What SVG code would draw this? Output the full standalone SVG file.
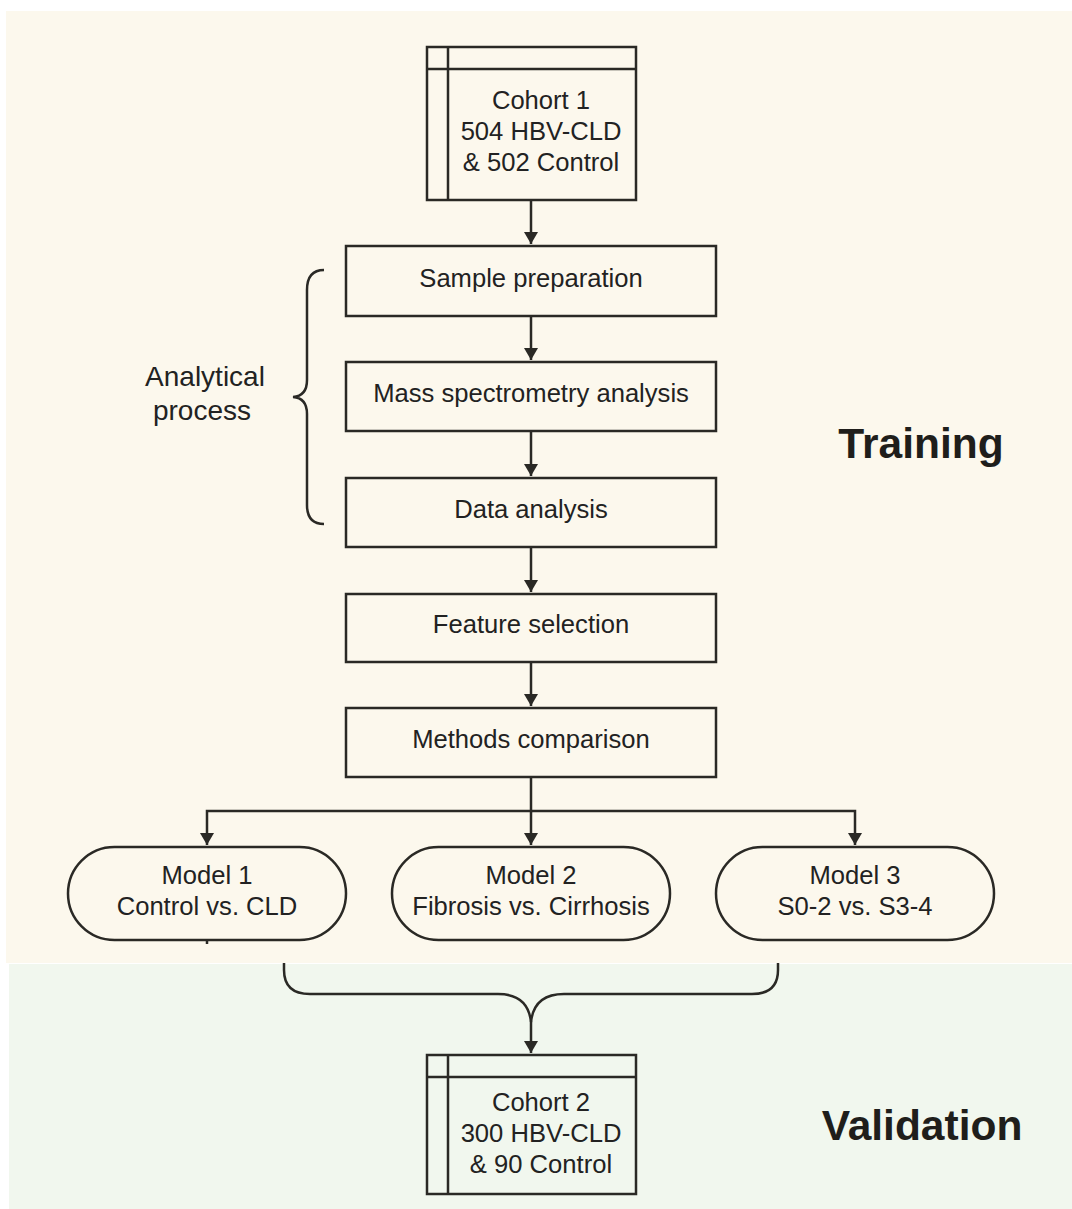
<svg xmlns="http://www.w3.org/2000/svg" width="1072" height="1209" viewBox="0 0 1072 1209">
<style>
.n{fill:none;stroke:#2a2925;stroke-width:2.5}
.f{fill:none;stroke:#2a2925;stroke-width:2.5}
.t{font-family:"Liberation Sans",Arial,sans-serif;font-size:25.6px;fill:#222;text-anchor:middle}
.b{font-family:"Liberation Sans",Arial,sans-serif;font-size:42.5px;font-weight:bold;fill:#1f1e1b;text-anchor:middle}
</style>
<defs>
<marker id="ah" markerWidth="14" markerHeight="16" refX="12" refY="7" orient="auto" markerUnits="userSpaceOnUse">
<path d="M0,0 L12,7 L0,14 Z" fill="#2a2925"/>
</marker>
</defs>
<rect width="1072" height="1209" fill="#ffffff"/>
<rect x="6" y="11" width="1066" height="952" fill="#fcf8ed"/>
<rect x="9" y="964" width="1063" height="245" fill="#f1f7ee"/>

<g id="connectors">
<path class="f" d="M531,200 V244" marker-end="url(#ah)"/>
<path class="f" d="M531,316 V360" marker-end="url(#ah)"/>
<path class="f" d="M531,431 V476" marker-end="url(#ah)"/>
<path class="f" d="M531,547 V592" marker-end="url(#ah)"/>
<path class="f" d="M531,662 V706" marker-end="url(#ah)"/>
<path class="f" d="M531,777 V811 H207 V845" marker-end="url(#ah)"/>
<path class="f" d="M531,811 V845" marker-end="url(#ah)"/>
<path class="f" d="M531,811 H855 V845" marker-end="url(#ah)"/>
<path class="f" d="M207,940 V944"/>
<path class="f" d="M284,963 V970 Q284,994 310,994 H498 Q528,994 531,1022 V1053" marker-end="url(#ah)"/>
<path class="f" d="M778,963 V970 Q778,994 752,994 H564 Q534,994 531,1022"/>
<path class="f" d="M324,270 Q307,270 307,290 V380 Q307,396 293,397 Q307,398 307,414 V505 Q307,524 324,524"/>
</g>

<g id="cohort1">
<rect class="n" x="427" y="47" width="209" height="153"/>
<path class="n" d="M427,69 H636 M448,47 V200"/>
<text class="t" x="541" y="109">Cohort 1</text>
<text class="t" x="541" y="140">504 HBV-CLD</text>
<text class="t" x="541" y="171">&amp; 502 Control</text>
</g>

<g id="sample">
<rect class="n" x="346" y="246" width="370" height="70"/>
<text class="t" x="531" y="287">Sample preparation</text>
</g>
<g id="mass">
<rect class="n" x="346" y="362" width="370" height="69"/>
<text class="t" x="531" y="402">Mass spectrometry analysis</text>
</g>
<g id="data">
<rect class="n" x="346" y="478" width="370" height="69"/>
<text class="t" x="531" y="518">Data analysis</text>
</g>
<g id="feature">
<rect class="n" x="346" y="594" width="370" height="68"/>
<text class="t" x="531" y="633">Feature selection</text>
</g>
<g id="methods">
<rect class="n" x="346" y="708" width="370" height="69"/>
<text class="t" x="531" y="748">Methods comparison</text>
</g>

<g id="model1">
<rect class="n" x="68" y="847" width="278" height="93" rx="46.5"/>
<text class="t" x="207" y="884">Model 1</text>
<text class="t" x="207" y="915">Control vs. CLD</text>
</g>
<g id="model2">
<rect class="n" x="392" y="847" width="278" height="93" rx="46.5"/>
<text class="t" x="531" y="884">Model 2</text>
<text class="t" x="531" y="915">Fibrosis vs. Cirrhosis</text>
</g>
<g id="model3">
<rect class="n" x="716" y="847" width="278" height="93" rx="46.5"/>
<text class="t" x="855" y="884">Model 3</text>
<text class="t" x="855" y="915">S0-2 vs. S3-4</text>
</g>

<g id="cohort2">
<rect class="n" x="427" y="1055" width="209" height="139"/>
<path class="n" d="M427,1077 H636 M448,1055 V1194"/>
<text class="t" x="541" y="1111">Cohort 2</text>
<text class="t" x="541" y="1142">300 HBV-CLD</text>
<text class="t" x="541" y="1173">&amp; 90 Control</text>
</g>

<g id="labels">
<text class="t" x="205" y="386" style="font-size:28px">Analytical</text>
<text class="t" x="202" y="420" style="font-size:28px">process</text>
<text class="b" x="921" y="458">Training</text>
<text class="b" x="922" y="1140">Validation</text>
</g>
</svg>
